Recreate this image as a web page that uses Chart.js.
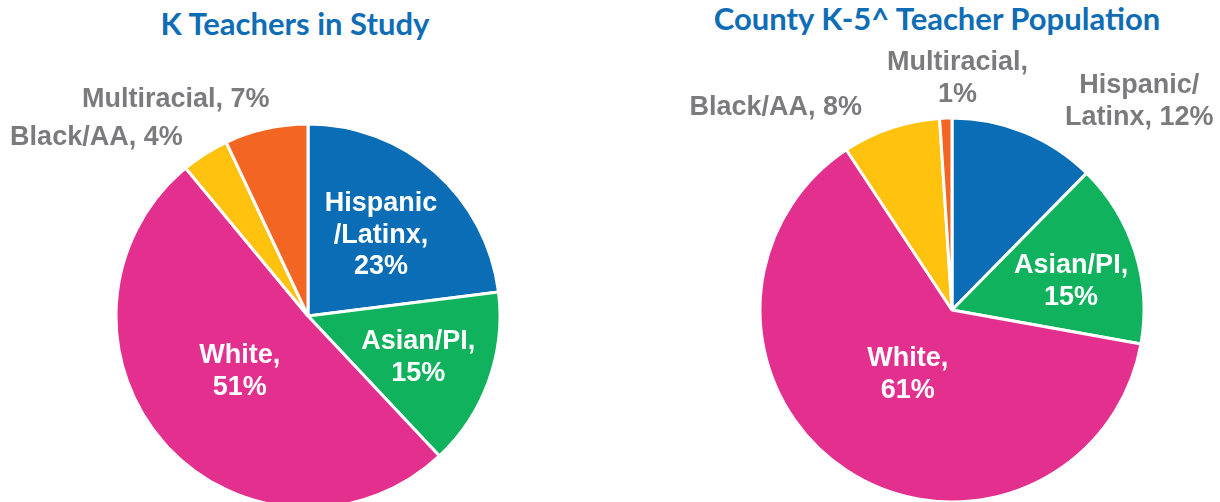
<!DOCTYPE html>
<html lang="en">
<head>
  <meta charset="UTF-8">
  <title>Teacher race/ethnicity</title>
  <script src="https://cdn.jsdelivr.net/npm/chart.js"></script>
  <style>
    body { margin: 0; background: #fff; width: 1220px; height: 502px; overflow: hidden; position: relative; }
    .title {
      position: absolute;
      font-family: Lato, "Open Sans", sans-serif;
      font-weight: bold;
      font-size: 31px;
      color: #0f6db5;
      white-space: nowrap;
      transform: translateX(-50%);
    }
    .pie { position: absolute; top: 0; height: 502px; }
  </style>
</head>
<body>
  <div class="title" id="titleLeft" style="left:295px; top:4px;">K Teachers in Study</div>
  <div class="title" id="titleRight" style="left:937px; top:-1px;">County K-5^ Teacher Population</div>

  <div class="pie" style="left:0; width:616px;"><canvas id="studyChart"></canvas></div>
  <div class="pie" style="left:684px; width:536px;"><canvas id="countyChart"></canvas></div>

  <script>
    // shared categories (slice order, clockwise from 12 o'clock)
    const categories = ['Hispanic/Latinx', 'Asian/PI', 'White', 'Black/AA', 'Multiracial'];
    const sliceColors = ['#0a6db5', '#10b25d', '#e3308f', '#ffc20f', '#f26522'];

    // K teachers in the study (%)
    const studyValues = [23, 15, 51, 4, 7];
    const studyLabels = [['Hispanic', '/Latinx,', '23%'], ['Asian/PI,', '15%'], ['White,', '51%'], ['Black/AA, 4%'], ['Multiracial, 7%']];

    // county K-5 teacher population (%)
    const countyValues = [12, 15, 61, 8, 1];
    const countyLabels = [['Hispanic/', 'Latinx, 12%'], ['Asian/PI,', '15%'], ['White,', '61%'], ['Black/AA, 8%'], ['Multiracial,', '1%']];

    // label placement: fraction of radius along the slice middle, plus a nudge
    const studyPlace = [
      { r: 0.56, dx: 2, dy: 0, inside: true },
      { r: 0.61, dx: 0, dy: 2, inside: true },
      { r: 0.46, dx: -2, dy: -3, inside: true },
      { r: 1.25, dx: -83, dy: 24, inside: false },
      { r: 1.2, dx: -82, dy: 8, inside: false }
    ];
    const countyPlace = [
      { r: 1.2, dx: 100, dy: 5, inside: false },
      { r: 0.64, dx: 2, dy: 9, inside: true },
      { r: 0.41, dx: -1, dy: -1, inside: true },
      { r: 1.2, dx: -103, dy: 16, inside: false },
      { r: 1.2, dx: 13, dy: -1, inside: false }
    ];

    const sliceLabels = {
      id: 'sliceLabels',
      afterDatasetsDraw(chart, args, opts) {
        const ctx = chart.ctx;
        const meta = chart.getDatasetMeta(0);
        ctx.save();
        ctx.font = 'bold 27px "Liberation Sans", Arial, sans-serif';
        ctx.textAlign = 'center';
        ctx.textBaseline = 'middle';
        meta.data.forEach((arc, i) => {
          const p = arc.getProps(['x', 'y', 'startAngle', 'endAngle', 'outerRadius'], true);
          const mid = (p.startAngle + p.endAngle) / 2;
          const place = opts.place[i];
          const d = p.outerRadius * place.r;
          const cx = p.x + Math.cos(mid) * d + place.dx;
          const cy = p.y + Math.sin(mid) * d + place.dy;
          const lines = opts.labels[i];
          const lh = 31.5;
          ctx.fillStyle = place.inside ? '#ffffff' : '#7b7b7d';
          lines.forEach((line, k) => {
            ctx.fillText(line, cx, cy + (k - (lines.length - 1) / 2) * lh);
          });
        });
        ctx.restore();
      }
    };

    function makePie(canvasId, values, labels, place, padTop) {
      const ctx = document.getElementById(canvasId).getContext('2d');
      return new Chart(ctx, {
        type: 'pie',
        data: {
          labels: categories,
          datasets: [{
            data: values,
            backgroundColor: sliceColors,
            borderColor: '#ffffff',
            borderWidth: 3
          }]
        },
        options: {
          responsive: true,
          maintainAspectRatio: false,
          animation: false,
          radius: 192,
          layout: { padding: { top: padTop, bottom: 0 } },
          plugins: {
            legend: { display: false },
            tooltip: { enabled: false },
            sliceLabels: { labels: labels, place: place }
          }
        },
        plugins: [sliceLabels]
      });
    }

    makePie('studyChart', studyValues, studyLabels, studyPlace, 130);
    makePie('countyChart', countyValues, countyLabels, countyPlace, 118);
  </script>
</body>
</html>
